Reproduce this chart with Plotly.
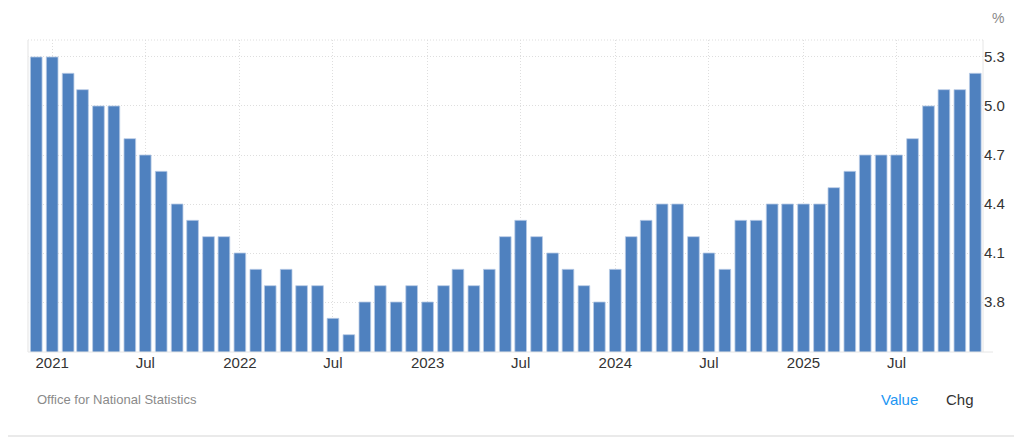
import plotly.graph_objects as go

months = [f"{y}-{m:02d}-01" for y, m in [(2020, 12)] + [(yy, mm) for yy in range(2021, 2026) for mm in range(1, 13)]]
values = [5.3, 5.3, 5.2, 5.1, 5.0, 5.0, 4.8, 4.7, 4.6, 4.4, 4.3, 4.2, 4.2,
          4.1, 4.0, 3.9, 4.0, 3.9, 3.9, 3.7, 3.6, 3.8, 3.9, 3.8, 3.9,
          3.8, 3.9, 4.0, 3.9, 4.0, 4.2, 4.3, 4.2, 4.1, 4.0, 3.9, 3.8,
          4.0, 4.2, 4.3, 4.4, 4.4, 4.2, 4.1, 4.0, 4.3, 4.3, 4.4, 4.4,
          4.4, 4.4, 4.5, 4.6, 4.7, 4.7, 4.7, 4.8, 5.0, 5.1, 5.1, 5.2]
x_tickvals = ["2021-01-01", "2021-07-01", "2022-01-01", "2022-07-01", "2023-01-01",
              "2023-07-01", "2024-01-01", "2024-07-01", "2025-01-01", "2025-07-01"]
x_ticktext = ["2021", "Jul", "2022", "Jul", "2023", "Jul", "2024", "Jul", "2025", "Jul"]
y_tickvals = [3.8, 4.1, 4.4, 4.7, 5.0, 5.3]

# page body has an 8px margin; work in window pixels and convert
OFF = 8
W, H = 1022 - OFF, 438 - OFF
ml, mr, mt, mb = 28 - OFF, 39, 40 - OFF, 86
pw, ph = W - ml - mr, H - mt - mb

def px(xw):
    return (xw - OFF - ml) / pw

def py(yw):
    return (H - mb - (yw - OFF)) / ph

fig = go.Figure()
fig.add_trace(go.Bar(
    x=months, y=values,
    width=22.7 * 86400000,
    marker=dict(color="#4f81bf", line=dict(color="#b9cbe6", width=0.8)),
    hoverinfo="x+y",
))

font = "Liberation Sans, Arial, Helvetica, sans-serif"
fig.update_layout(
    width=W, height=H,
    margin=dict(l=ml, r=mr, t=mt, b=mb),
    paper_bgcolor="white", plot_bgcolor="white",
    showlegend=False,
    font=dict(family=font, size=15, color="#333333"),
    xaxis=dict(
        type="date",
        range=["2020-11-15", "2025-12-16"],
        tickvals=x_tickvals, ticktext=x_ticktext,
        showgrid=True, gridcolor="#dedede", griddash="1px,2px", gridwidth=1,
        showline=False, zeroline=False, ticks="",
        tickfont=dict(size=15, color="#333333"),
        fixedrange=True,
    ),
    yaxis=dict(
        side="right",
        range=[3.494, 5.404],
        tickvals=y_tickvals, tickformat=".1f",
        showgrid=True, gridcolor="#dedede", griddash="1px,2px", gridwidth=1,
        showline=False, zeroline=False, ticks="",
        tickfont=dict(size=15, color="#333333"),
        fixedrange=True,
    ),
)

shapes = [
    # outer border (right and bottom edges visible)
    dict(type="rect", xref="paper", yref="paper",
         x0=px(2), x1=px(1019.5), y0=py(436), y1=py(1.5),
         line=dict(color="#e3e3e3", width=1.5), layer="below"),
    # top dotted border
    dict(type="line", xref="paper", yref="paper", x0=0, x1=1, y0=1, y1=1,
         line=dict(color="#dddddd", width=1, dash="1px,2px")),
    # left border
    dict(type="line", xref="paper", yref="paper", x0=0, x1=0, y0=0, y1=1,
         line=dict(color="#ececec", width=1.5)),
    # right border
    dict(type="line", xref="paper", yref="paper", x0=1, x1=1, y0=0, y1=1,
         line=dict(color="#e6e6e6", width=1)),
    # bottom axis line
    dict(type="line", xref="paper", yref="paper", x0=0, x1=px(993), y0=0, y1=0,
         line=dict(color="#e6e6e6", width=1)),
]
fig.update_layout(shapes=shapes)

annotations = [
    dict(text="%", x=px(998), y=py(18), xref="paper", yref="paper",
         showarrow=False, font=dict(size=14, color="#888888"), xanchor="center", yanchor="middle"),
    dict(text="Office for National Statistics", x=px(35), y=py(399), xref="paper", yref="paper",
         showarrow=False, font=dict(size=13, color="#8a8a8a"), xanchor="left", yanchor="middle"),
    dict(text="Value", x=px(879), y=py(399), xref="paper", yref="paper",
         showarrow=False, font=dict(size=15, color="#2196f3"), xanchor="left", yanchor="middle"),
    dict(text="Chg", x=px(944), y=py(399), xref="paper", yref="paper",
         showarrow=False, font=dict(size=15, color="#333333"), xanchor="left", yanchor="middle"),
]
fig.update_layout(annotations=annotations)

fig.write_html("out.html", config={"displayModeBar": False})
